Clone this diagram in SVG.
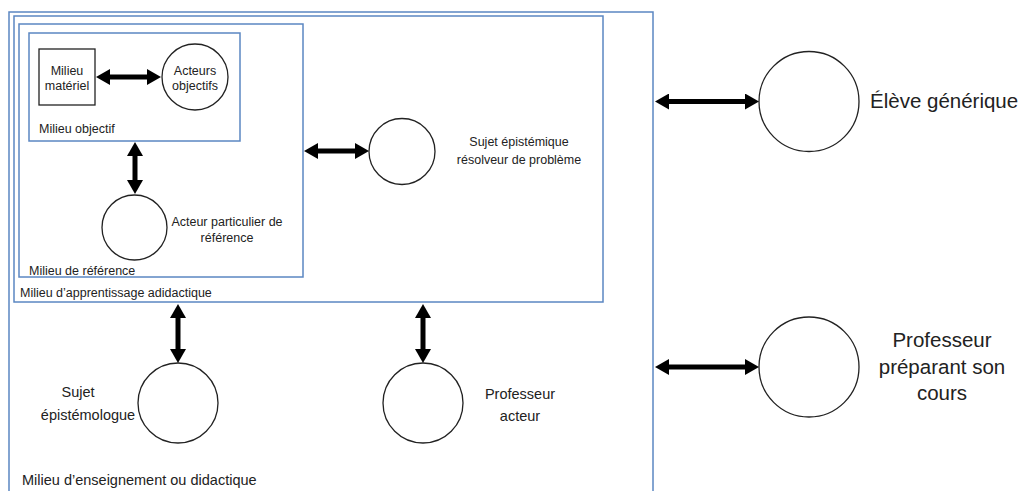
<svg xmlns="http://www.w3.org/2000/svg" width="1026" height="491" viewBox="0 0 1026 491">
<style>
.box{fill:none;stroke:#5b87c2;stroke-width:1.5}
.node{fill:#fff;stroke:#222;stroke-width:1.3}
.t{font-family:"Liberation Sans",Arial,sans-serif;fill:#222}
.s{font-size:12.5px}
.m{font-size:14.5px}
.l{font-size:20.5px}
.c{text-anchor:middle}
.arr{stroke:#000;stroke-width:5;fill:none;marker-start:url(#ah);marker-end:url(#ah)}
</style>
<defs>
<marker id="ah" markerUnits="userSpaceOnUse" markerWidth="14" markerHeight="16" refX="8" refY="8" orient="auto-start-reverse">
<path d="M0,0 L14,8 L0,16 z" fill="#000"/>
</marker>
</defs>
<rect width="1026" height="491" fill="#fff"/>
<g id="milieu-enseignement">
<rect class="box" x="9" y="12" width="644" height="490"/>
<text class="t m" x="22" y="485">Milieu d’enseignement ou didactique</text>
</g>
<g id="milieu-apprentissage">
<rect class="box" x="14" y="16" width="589" height="286"/>
<text class="t s" x="20" y="297">Milieu d’apprentissage adidactique</text>
</g>
<g id="milieu-reference">
<rect class="box" x="19" y="24" width="284" height="253"/>
<text class="t s" x="29" y="275">Milieu de référence</text>
</g>
<g id="milieu-objectif">
<rect class="box" x="29" y="33" width="211" height="108"/>
<text class="t s" x="39" y="133">Milieu objectif</text>
</g>
<g id="milieu-materiel">
<rect class="node" x="39" y="49" width="56" height="56"/>
<text class="t s c" x="67" y="75">Milieu</text>
<text class="t s c" x="67" y="90">matériel</text>
</g>
<g id="acteurs-objectifs">
<circle class="node" cx="195" cy="77" r="33"/>
<text class="t s c" x="195" y="75">Acteurs</text>
<text class="t s c" x="195" y="90">objectifs</text>
</g>
<g id="acteur-particulier">
<circle class="node" cx="134.5" cy="227.5" r="32.5"/>
<text class="t s c" x="227" y="226">Acteur particulier de</text>
<text class="t s c" x="227" y="242">référence</text>
</g>
<g id="sujet-epistemique">
<circle class="node" cx="402" cy="151.5" r="33"/>
<text class="t s c" x="519" y="146">Sujet épistémique</text>
<text class="t s c" x="519" y="164">résolveur  de problème</text>
</g>
<g id="eleve-generique">
<circle class="node" cx="809" cy="101.5" r="50"/>
<text class="t l" x="870" y="108">Élève générique</text>
</g>
<g id="professeur-preparant">
<circle class="node" cx="809" cy="367" r="50"/>
<text class="t l c" x="942" y="347">Professeur</text>
<text class="t l c" x="942" y="374">préparant son</text>
<text class="t l c" x="942" y="400">cours</text>
</g>
<g id="sujet-epistemologue">
<circle class="node" cx="178" cy="403" r="40"/>
<text class="t m c" x="78" y="397">Sujet</text>
<text class="t m c" x="88" y="420">épistémologue</text>
</g>
<g id="professeur-acteur">
<circle class="node" cx="423" cy="403" r="40"/>
<text class="t m c" x="520" y="399">Professeur</text>
<text class="t m c" x="520" y="421">acteur</text>
</g>
<g id="connectors">
<line class="arr" x1="102" y1="77" x2="155" y2="77"/>
<line class="arr" x1="135" y1="148" x2="135" y2="188"/>
<line class="arr" x1="310" y1="151" x2="363" y2="151"/>
<line class="arr" x1="661" y1="101.5" x2="753" y2="101.5"/>
<line class="arr" x1="661" y1="367" x2="753" y2="367"/>
<line class="arr" x1="178" y1="310" x2="178" y2="357"/>
<line class="arr" x1="423" y1="310" x2="423" y2="357"/>
</g>
</svg>
